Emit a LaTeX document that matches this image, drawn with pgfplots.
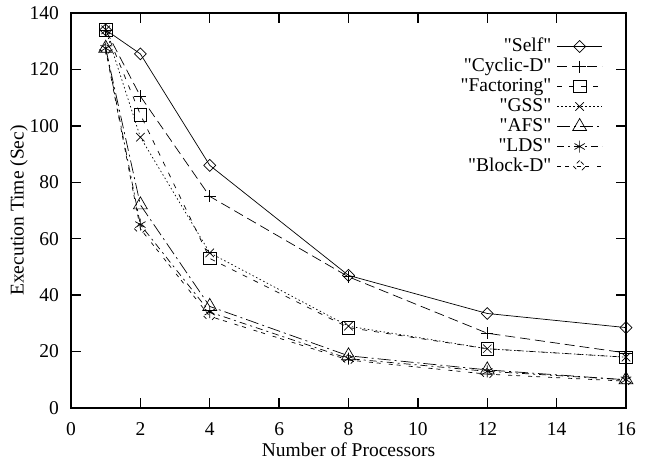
\documentclass[border=0pt]{standalone}
\usepackage{fontspec}
\setmainfont{Liberation Serif}[Ligatures=TeXOff]
\usepackage{pgfplots}
\pgfplotsset{compat=1.18}
\begin{document}
\fontsize{19.5}{22}\selectfont
\begin{tikzpicture}
\begin{axis}[
  name=ax,
  scale only axis,
  width=555pt, height=395pt,
  xmin=0, xmax=16, ymin=0, ymax=140,
  xtick={0,2,...,16}, ytick={0,20,...,140},
  /pgf/number format/assume math mode=true,
  tick label style={font=\fontsize{19.5}{22}\selectfont},
  label style={font=\fontsize{19.5}{22}\selectfont},
  xticklabel style={anchor=base, yshift=-28pt},
  yticklabel style={anchor=east, inner sep=0pt, xshift=-12pt},
  axis line style={line width=1.3pt},
  tick style={line width=1.3pt, black},
  major tick length=10pt,
  tick align=inside,
  xlabel={Number of Processors},
  ylabel={Execution Time (Sec)},
  xlabel style={at={(rel axis cs:0.5,0)}, anchor=center, yshift=-42pt},
  ylabel style={at={(rel axis cs:0,0.5)}, anchor=center, yshift=52pt},
  legend plot pos=right,
  legend cell align=right,
  legend image code/.code={\draw[mark repeat=2,mark phase=2,#1] plot coordinates {(0pt,0pt) (22.5pt,0pt) (45pt,0pt)};},
  legend style={draw=none, fill=none, inner sep=0pt, at={(rel axis cs:0.958,0.941)}, anchor=north east,
    row sep=0pt, column sep=4pt, font=\fontsize{19.5}{22}\selectfont,
    nodes={text height=13pt, text depth=4pt, inner ysep=1.5pt, inner xsep=1.5pt}},
  every axis plot/.append style={black, line width=0.7pt, mark options={solid, fill=none}},
]
\addplot[mark=square, mark size=4.2pt, mark options={rotate=45}] coordinates {(1,134) (2,125.5) (4,86) (8,47) (12,33.5) (16,28.5)};
\addlegendentry{"Self"}
\addplot[mark=+, mark size=6pt, dash pattern=on 10pt off 5pt] coordinates {(1,134) (2,110.5) (4,75) (8,46.5) (12,26.5) (16,19.5)};
\addlegendentry{"Cyclic-D"}
\addplot[mark=square, mark size=6.3pt, dash pattern=on 5pt off 7pt] coordinates {(1,134) (2,104) (4,53) (8,28.5) (12,21) (16,18)};
\addlegendentry{"Factoring"}
\addplot[mark=x, mark size=6pt, dash pattern=on 1.5pt off 2.5pt] coordinates {(1,134) (2,96) (4,55) (8,29) (12,21) (16,18)};
\addlegendentry{"GSS"}
\addplot[mark=triangle, mark size=8pt, dash pattern=on 13pt off 4pt on 2pt off 4pt] coordinates {(1,127.5) (2,72) (4,36) (8,18.5) (12,13.5) (16,10)};
\addlegendentry{"AFS"}
\addplot[mark=asterisk, mark size=6pt, dash pattern=on 7pt off 4pt on 2pt off 4pt] coordinates {(1,127.5) (2,65) (4,34) (8,17.5) (12,13) (16,10)};
\addlegendentry{"LDS"}
\addplot[mark=square, mark size=4.2pt, mark options={rotate=45}, dash pattern=on 4pt off 4pt on 4pt off 8pt] coordinates {(1,127) (2,63.5) (4,32.5) (8,17) (12,12) (16,9.5)};
\addlegendentry{"Block-D"}
\end{axis}
\pgfresetboundingbox
\path ([shift={(-71pt,-54pt)}]ax.south west) rectangle ([shift={(21pt,13pt)}]ax.north east);
\end{tikzpicture}
\end{document}
